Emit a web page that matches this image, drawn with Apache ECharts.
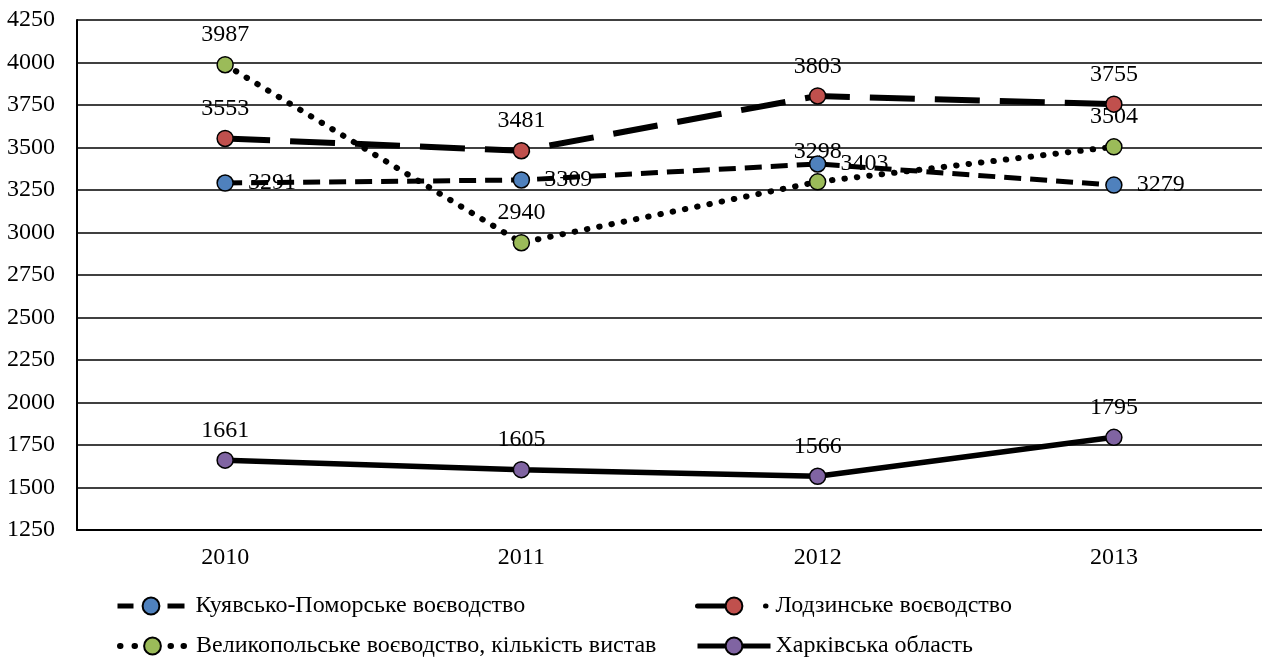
<!DOCTYPE html>
<html>
<head>
<meta charset="utf-8">
<script src="https://cdn.jsdelivr.net/npm/echarts@6/dist/echarts.min.js"></script>
<style>
html,body{margin:0;padding:0;background:#fff;}
#chart{width:1262px;height:660px;}
</style>
</head>
<body>
<div id="chart"></div>
<script>
var categories = ['2010', '2011', '2012', '2013'];
var seriesNames = [
  'Куявсько-Поморське воєводство',
  'Лодзинське воєводство',
  'Великопольське воєводство, кількість вистав',
  'Харківська область'
];
var kuyavian = [3291, 3309, 3403, 3279];
var lodz = [3553, 3481, 3803, 3755];
var wielkopolska = [3987, 2940, 3298, 3504];
var kharkiv = [1661, 1605, 1566, 1795];
var yMin = 1250, yMax = 4250, yStep = 250;

var FONT = '"Liberation Serif", "Times New Roman", serif';
var FS = 24;

function labelCfg(pos, dist) {
  return {show: true, position: pos, distance: dist, color: '#000', fontFamily: FONT, fontSize: FS};
}

var chart = echarts.init(document.getElementById('chart'));
function legendAt(name, left, top, w, gapPad, lineStyle) {
  return {
    data: [name], left: left, top: top, padding: 0,
    itemWidth: w, itemHeight: 21, itemGap: 0,
    lineStyle: lineStyle,
    textStyle: {color: '#000', fontFamily: FONT, fontSize: 24, padding: [0, 0, 0, gapPad]},
    selectedMode: false
  };
}
chart.setOption({
  animation: false,
  backgroundColor: '#fff',
  grid: {left: 77, right: 0, top: 20, bottom: 130},
  legend: [
    legendAt(seriesNames[0], 115, 594, 67, 6, {color: '#000', width: 5, type: [16, 34, 17, 100]}),
    legendAt(seriesNames[1], 695, 594, 73, 0, {color: '#000', width: 5, type: [35, 33, 0.5, 100], cap: 'round'}),
    legendAt(seriesNames[2], 117, 634, 65, 6, {color: '#000', width: 6, type: [0.5, 14, 0.5, 35.5, 0.5, 12.5, 0.5, 100], cap: 'round'}),
    legendAt(seriesNames[3], 695, 634, 73, 0, {color: '#000', width: 5})
  ],
  xAxis: {
    type: 'category', data: categories, boundaryGap: true,
    axisLine: {lineStyle: {color: '#000', width: 2}},
    axisTick: {show: false},
    axisLabel: {color: '#000', fontFamily: FONT, fontSize: FS, margin: 16}
  },
  yAxis: {
    type: 'value', min: yMin, max: yMax, interval: yStep,
    axisLine: {show: true, lineStyle: {color: '#000', width: 2}},
    axisTick: {show: false},
    axisLabel: {color: '#000', fontFamily: FONT, fontSize: FS, margin: 22,
      formatter: function (v) { return String(v); }},
    splitLine: {lineStyle: {color: '#000', width: 1.5}}
  },
  series: [
    {
      name: seriesNames[0], type: 'line', data: kuyavian,
      symbol: 'circle', symbolSize: 16,
      itemStyle: {color: '#4f81bd', borderColor: '#000', borderWidth: 1.5},
      lineStyle: {color: '#000', width: 5, type: [17, 9]},
      label: labelCfg('right', 14), z: 4
    },
    {
      name: seriesNames[1], type: 'line', data: lodz,
      symbol: 'circle', symbolSize: 16,
      itemStyle: {color: '#c0504d', borderColor: '#000', borderWidth: 1.5},
      lineStyle: {color: '#000', width: 6, type: [45, 20]},
      label: labelCfg('top', 9), z: 3
    },
    {
      name: seriesNames[2], type: 'line', data: wielkopolska,
      symbol: 'circle', symbolSize: 16,
      itemStyle: {color: '#9bbb59', borderColor: '#000', borderWidth: 1.5},
      lineStyle: {color: '#000', width: 6, type: [0.5, 12], cap: 'round'},
      label: labelCfg('top', 9), z: 2
    },
    {
      name: seriesNames[3], type: 'line', data: kharkiv,
      symbol: 'circle', symbolSize: 16,
      itemStyle: {color: '#8064a2', borderColor: '#000', borderWidth: 1.5},
      lineStyle: {color: '#000', width: 5.5},
      label: labelCfg('top', 9), z: 2
    }
  ]
});
</script>
</body>
</html>
